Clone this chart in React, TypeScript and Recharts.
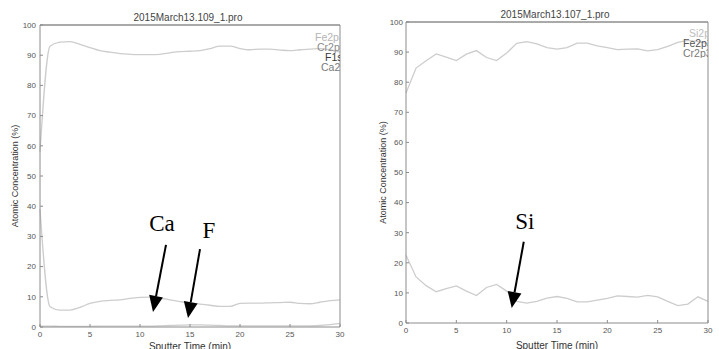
import React from 'react';
import { LineChart, Line, XAxis, YAxis, ReferenceLine } from 'recharts';

// sputter time, minutes
const timeMin = [0, 1, 2, 3, 4, 5, 6, 7, 8, 9, 10, 11, 12, 13, 14, 15, 16, 17, 18, 19, 20, 21, 22, 23, 24, 25, 26, 27, 28, 29, 30];

// 2015March13.109_1.pro
const leftFe = [58, 93, 94.3, 94.5, 93.6, 92.5, 91.5, 91, 90.5, 90.3, 90.2, 90.2, 90.3, 90.8, 91.2, 91.3, 91.5, 92.2, 93, 93, 92.2, 91.8, 92, 92, 91.7, 91.5, 91.8, 92, 92.2, 91.8, 91];
const leftCa = [39, 6.7, 5.6, 5.6, 6.5, 7.8, 8.5, 8.8, 9, 9.5, 9.8, 9.9, 9.6, 9, 8.4, 8, 7.6, 7.2, 6.8, 6.8, 7.8, 7.9, 7.9, 8, 8.1, 8.2, 7.8, 7.7, 8.2, 8.7, 9];
const leftF = [0.3, 0.3, 0.2, 0.2, 0.2, 0.2, 0.3, 0.3, 0.3, 0.3, 0.3, 0.3, 0.4, 0.5, 0.6, 0.7, 0.7, 0.6, 0.5, 0.4, 0.4, 0.4, 0.4, 0.4, 0.4, 0.4, 0.4, 0.4, 0.5, 0.8, 1.2];

// 2015March13.107_1.pro
const rightFe = [76.4, 84.7, 87.1, 89.4, 88.3, 87.2, 89.3, 90.5, 88.2, 87.2, 89.7, 92.9, 93.5, 92.7, 91.5, 91, 91.5, 93, 93, 92.1, 91.5, 90.8, 91, 91.1, 90.4, 90.8, 91.9, 93.2, 93.9, 93.5, 92.8];
const rightSi = [22.5, 15.3, 12.4, 10.4, 11.4, 12.3, 10.6, 9.1, 11.8, 12.8, 10.6, 7.2, 6.6, 7.2, 8.3, 8.8, 8.2, 7, 7, 7.6, 8.2, 9, 8.8, 8.6, 9.2, 8.7, 7.2, 5.8, 6.3, 8.7, 7.2];

const xTicks = [0, 5, 10, 15, 20, 25, 30];
const yTicks = [0, 10, 20, 30, 40, 50, 60, 70, 80, 90, 100];

const leftLegendNames = ['Fe2p3', 'Cr2p3', 'F1s', 'Ca2p3'];
const leftLegendColors = ['#b4b4b4', '#8a8a8a', '#3a3a3a', '#7a7a7a'];
const leftLegendIndent = [0, 2, 10, 6];
const rightLegendNames = ['Si2p', 'Fe2p3', 'Cr2p3'];
const rightLegendColors = ['#bdbdbd', '#555555', '#7a7a7a'];
const rightLegendIndent = [6, 0, 0];

const leftData = timeMin.map((t, i) => ({ t, fe: leftFe[i], ca: leftCa[i], f: leftF[i] }));
const rightData = timeMin.map((t, i) => ({ t, fe: rightFe[i], si: rightSi[i] }));

const font = 'Arial, "Liberation Sans", sans-serif';
const tickStyle = { fontSize: 8, fill: '#555', fontFamily: font };
const axisColor = '#8c8c8c';
const lineColor = '#cdcdcd';

// arrow drawn with a filled head, plus the element label above its tail
const arrowShape = (label: string, dx: number, dy: number) => (props: any) => {
  const { x1, y1, x2, y2 } = props;
  const ang = Math.atan2(y2 - y1, x2 - x1);
  const len = 16;
  const half = 7;
  const bx = x2 - len * Math.cos(ang);
  const by = y2 - len * Math.sin(ang);
  const px = -Math.sin(ang) * half;
  const py = Math.cos(ang) * half;
  return (
    <g>
      <line x1={x1} y1={y1} x2={bx} y2={by} stroke="#000" strokeWidth={2} />
      <polygon points={`${x2},${y2} ${bx + px},${by + py} ${bx - px},${by - py}`} fill="#000" />
      <text x={x1 + dx} y={y1 + dy} fontFamily='"Liberation Serif", "Times New Roman", serif' fontSize={23} fill="#000" textAnchor="middle">
        {label}
      </text>
    </g>
  );
};

// peak names, clipped at the right edge of the plot like the instrument output
const PeakList = ({ names, colors, indent, left, top, right }: { names: string[]; colors: string[]; indent: number[]; left: number; top: number; right: number }) => (
  <div style={{ position: 'absolute', left, top, width: right - left, overflow: 'hidden', fontFamily: font, fontSize: 10.5, lineHeight: '10px' }}>
    {names.map((n, i) => (
      <div key={n} style={{ color: colors[i], whiteSpace: 'nowrap', paddingLeft: indent[i], height: 10 }}>{n}</div>
    ))}
  </div>
);

const App: React.FC = () => {
  return (
    <div style={{ position: 'absolute', left: 0, top: 0, width: 719, height: 349, background: '#fff', overflow: 'hidden' }}>
      {/* left panel */}
      <div style={{ position: 'absolute', left: 0, top: 0 }}>
        <LineChart width={360} height={349} data={leftData} margin={{ top: 20, right: 0, bottom: 0, left: 0 }}>
          <XAxis xAxisId="b" dataKey="t" type="number" domain={[0, 30]} ticks={xTicks} height={22}
            stroke={axisColor} tick={tickStyle} tickSize={-3} tickMargin={7}
            label={{ value: 'Sputter Time (min)', position: 'insideBottom', offset: -1, style: { fontSize: 10, fill: '#333', fontFamily: font } }} />
          <XAxis xAxisId="t" orientation="top" dataKey="t" type="number" domain={[0, 30]} ticks={xTicks} height={5}
            stroke="#555" tick={false} tickSize={-3} />
          <YAxis yAxisId="l" domain={[0, 100]} ticks={yTicks} width={40} stroke={axisColor} tick={tickStyle} tickSize={-3} tickMargin={7}
            label={{ value: 'Atomic Concentration (%)', angle: -90, position: 'insideLeft', offset: 15, style: { textAnchor: 'middle', fontSize: 9, fill: '#333', fontFamily: font } }} />
          <YAxis yAxisId="r" orientation="right" domain={[0, 100]} ticks={yTicks} width={20} stroke={axisColor} tick={false} tickSize={-3} />
          <Line xAxisId="b" yAxisId="l" dataKey="fe" stroke={lineColor} strokeWidth={1.3} dot={false} type="monotone" isAnimationActive={false} />
          <Line xAxisId="b" yAxisId="l" dataKey="ca" stroke={lineColor} strokeWidth={1.3} dot={false} type="monotone" isAnimationActive={false} />
          <Line xAxisId="b" yAxisId="l" dataKey="f" stroke={lineColor} strokeWidth={1.3} dot={false} type="monotone" isAnimationActive={false} />
          <ReferenceLine xAxisId="b" yAxisId="l" segment={[{ x: 12.6, y: 27.2 }, { x: 11.3, y: 5 }]} shape={arrowShape('Ca', -4, -14)} />
          <ReferenceLine xAxisId="b" yAxisId="l" segment={[{ x: 16.0, y: 25.8 }, { x: 14.8, y: 3 }]} shape={arrowShape('F', 9, -11)} />
        </LineChart>
        <div style={{ position: 'absolute', left: 0, top: 12, width: 376, textAlign: 'center', fontFamily: font, fontSize: 10, color: '#444' }}>2015March13.109_1.pro</div>
        <PeakList names={leftLegendNames} colors={leftLegendColors} indent={leftLegendIndent} left={315} top={32} right={340} />
      </div>

      {/* right panel */}
      <div style={{ position: 'absolute', left: 360, top: 0 }}>
        <LineChart width={359} height={349} data={rightData} margin={{ top: 17, right: 0, bottom: 0, left: 0 }}>
          <XAxis xAxisId="b" dataKey="t" type="number" domain={[0, 30]} ticks={xTicks} height={26}
            stroke={axisColor} tick={tickStyle} tickSize={-3} tickMargin={7}
            label={{ value: 'Sputter Time (min)', position: 'insideBottom', offset: 0, style: { fontSize: 10, fill: '#333', fontFamily: font } }} />
          <XAxis xAxisId="t" orientation="top" dataKey="t" type="number" domain={[0, 30]} ticks={xTicks} height={5}
            stroke="#555" tick={false} tickSize={-3} />
          <YAxis yAxisId="l" domain={[0, 100]} ticks={yTicks} width={46} stroke={axisColor} tick={tickStyle} tickSize={-3} tickMargin={6}
            label={{ value: 'Atomic Concentration (%)', angle: -90, position: 'insideLeft', offset: 23, style: { textAnchor: 'middle', fontSize: 9, fill: '#333', fontFamily: font } }} />
          <YAxis yAxisId="r" orientation="right" domain={[0, 100]} ticks={yTicks} width={11} stroke={axisColor} tick={false} tickSize={-3} />
          <Line xAxisId="b" yAxisId="l" dataKey="fe" stroke={lineColor} strokeWidth={1.3} dot={false} type="linear" isAnimationActive={false} />
          <Line xAxisId="b" yAxisId="l" dataKey="si" stroke={lineColor} strokeWidth={1.3} dot={false} type="linear" isAnimationActive={false} />
          <ReferenceLine xAxisId="b" yAxisId="l" segment={[{ x: 11.7, y: 27 }, { x: 10.5, y: 5 }]} shape={arrowShape('Si', 1, -13)} />
        </LineChart>
        <div style={{ position: 'absolute', left: 0, top: 9, width: 390, textAlign: 'center', fontFamily: font, fontSize: 10, color: '#444' }}>2015March13.107_1.pro</div>
        <PeakList names={rightLegendNames} colors={rightLegendColors} indent={rightLegendIndent} left={323} top={28} right={348} />
      </div>
    </div>
  );
};

export default App;
